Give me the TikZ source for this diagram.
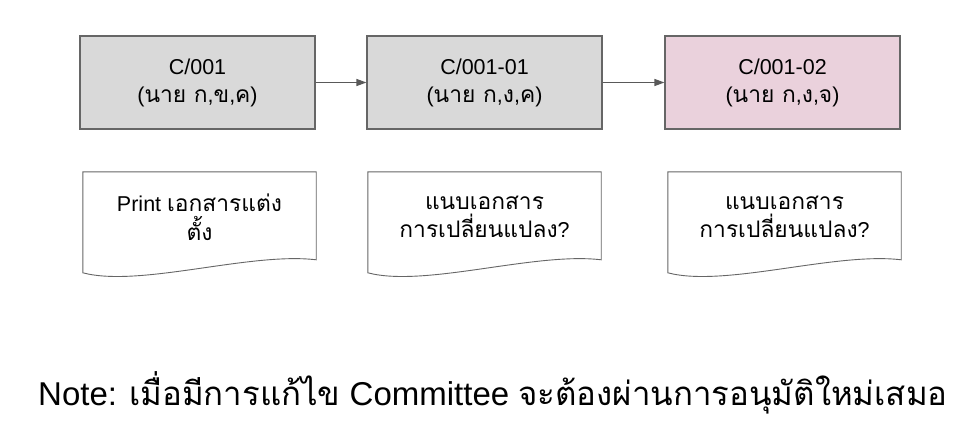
\documentclass[tikz,border=0pt]{standalone}
\usepackage{fontspec}
\setmainfont{Liberation Sans}
\newfontfamily\thaifont[Script=Thai,Scale=1.06]{Loma}
\usetikzlibrary{arrows.meta,calc}
\newcommand\tha[1]{{\thaifont #1}}
\definecolor{boxgray}{HTML}{D9D9D9}
\definecolor{boxpink}{HTML}{EAD1DC}
\definecolor{edgegray}{HTML}{666666}
\definecolor{arrowgray}{HTML}{595959}
\newcommand\docoutline[1]{%
  \draw[docline] (#1.north west) -- (#1.north east) -- ($(#1.north east)+(0,88)$)
   .. controls ($(#1.north west)+(167,80)$) and ($(#1.north west)+(57,116)$) ..
   ($(#1.north west)+(0,101)$) -- cycle;}
\begin{document}
\begin{tikzpicture}[x=1pt,y=-1pt,
  procbox/.style={draw=edgegray,line width=1.1pt,minimum width=235pt,minimum height=93pt,
    align=center,font=\fontsize{21.5}{28}\selectfont,inner sep=0pt},
  docnode/.style={minimum width=233pt,minimum height=101pt,align=center,
    font=\fontsize{21.5}{28.5}\selectfont,inner sep=0pt},
  doctext/.style={align=center,font=\fontsize{21.5}{28.5}\selectfont,inner sep=0pt},
  docline/.style={draw=edgegray,line width=0.9pt},
  flow/.style={draw=arrowgray,line width=1.1pt,-{Triangle[length=10pt,width=7pt]}}]
\useasboundingbox[fill=white] (0,0) rectangle (971,439);
\node[procbox,fill=boxgray] (b1) at (197.5,82.5) {C/001\\(\tha{นาย ก},\tha{ข},\tha{ค})};
\node[procbox,fill=boxgray] (b2) at (484.5,82.5) {C/001-01\\(\tha{นาย ก},\tha{ง},\tha{ค})};
\node[procbox,fill=boxpink] (b3) at (782.5,82.5) {C/001-02\\(\tha{นาย ก},\tha{ง},\tha{จ})};
\draw[flow] (b1) -- (b2);
\draw[flow] (b2) -- (b3);
\node[docnode] (d1) at (199.5,222.5) {};
\node[docnode] (d2) at (484.5,222.5) {};
\node[docnode] (d3) at (784.5,222.5) {};
\docoutline{d1}
\docoutline{d2}
\docoutline{d3}
\node[doctext] (t1) at (199.5,217) {Print \tha{เอกสารแต่ง}\\\tha{ตั้ง}};
\node[doctext] (t2) at (484.5,217) {\tha{แนบเอกสาร}\\\tha{การเปลี่ยนแปลง}?};
\node[doctext] (t3) at (784.5,217) {\tha{แนบเอกสาร}\\\tha{การเปลี่ยนแปลง}?};
\node[anchor=base west,inner sep=0pt,font=\fontsize{33}{40}\selectfont] (note) at (38,405)
  {Note: {\fontspec[Script=Thai]{Loma}เมื่อมีการแก้ไข} Committee {\fontspec[Script=Thai]{Loma}จะต้องผ่านการอนุมัติใหม่เสมอ}};
\end{tikzpicture}
\end{document}
